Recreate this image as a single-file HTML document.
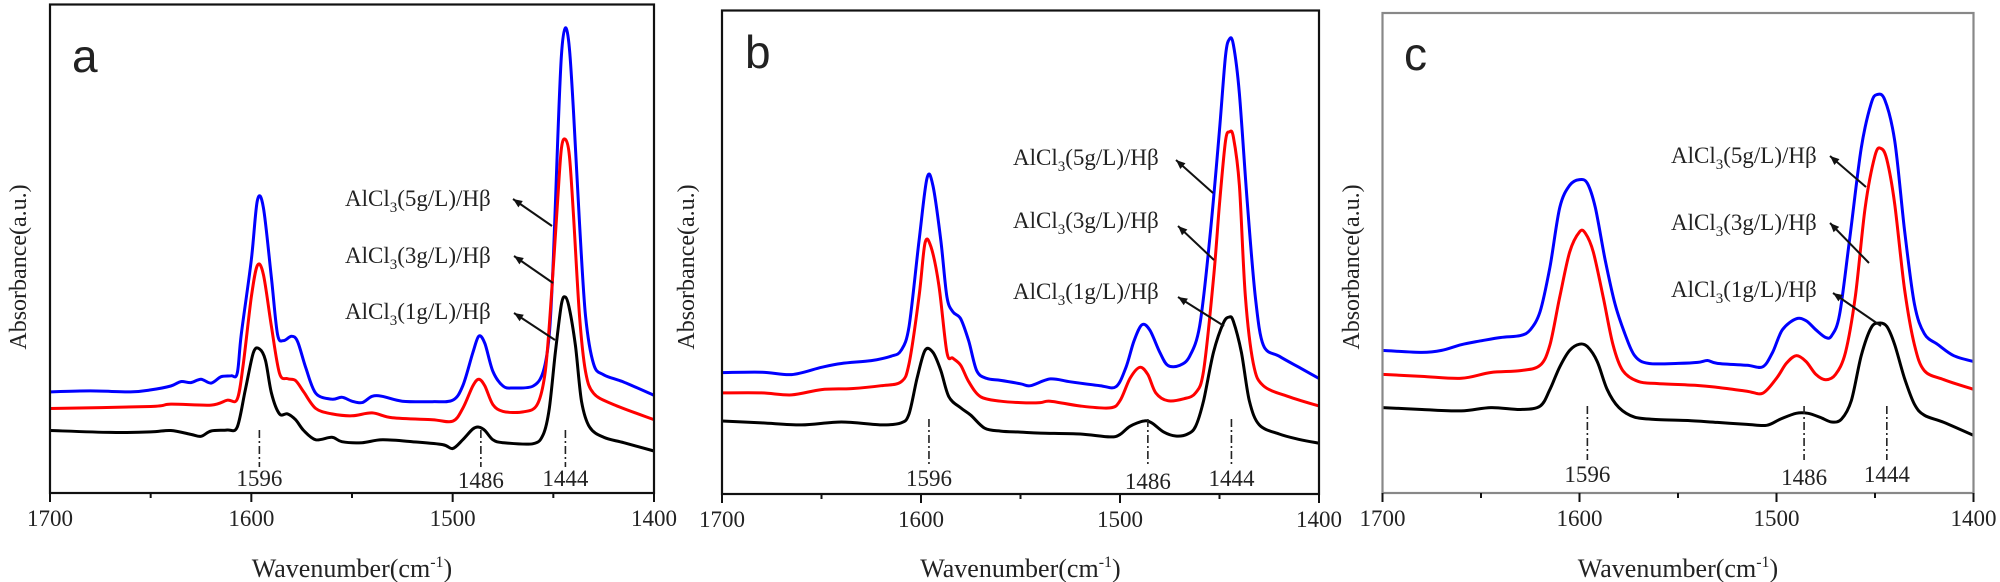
<!DOCTYPE html>
<html><head><meta charset="utf-8"><style>
html,body{margin:0;padding:0;background:#fff;}
svg{display:block;}
text{font-family:"Liberation Serif",serif;fill:#222;}
</style></head><body>
<svg id="fig" width="2000" height="582" viewBox="0 0 2000 582" xmlns="http://www.w3.org/2000/svg"></svg>
<script>
// ---------- data (wavenumber cm-1, absorbance a.u. arbitrary 0..100) ----------
const xTicks = [1700, 1600, 1500, 1400];
const minorTicks = [1650, 1550, 1450];
const peakPositions = [1596, 1486, 1444];
const seriesNames = ["AlCl3(5g/L)/Hβ", "AlCl3(3g/L)/Hβ", "AlCl3(1g/L)/Hβ"];

// Panel a
const aBlueW = [1700,1680,1660,1650,1640,1635,1630,1625,1620,1615,1610,1607,1605,1600,1597,1594,1590,1587,1584,1580,1577,1573,1568,1560,1555,1550,1545,1540,1535,1525,1510,1500,1495,1490,1487,1484,1480,1475,1470,1460,1455,1452,1450,1448,1446,1444,1442,1440,1437,1434,1430,1425,1415,1400];
const aBlueV = [20.7,20.9,20.7,21.1,21.9,22.8,22.6,23.3,22.5,23.8,24.0,24.5,32.5,47.7,59.9,58.4,43.9,32.5,31.2,32.1,31.0,25.7,20.4,19.2,19.6,18.8,18.5,19.8,19.8,18.8,18.7,19.0,21.9,28.7,32.1,30.6,24.9,21.9,21.5,21.9,24.9,32.5,47.7,70.5,89.5,95.2,91.0,78.1,55.3,36.3,26.4,24.2,22.7,20.0];
const aRedW = [1700,1650,1640,1620,1612,1607,1604,1600,1597,1594,1590,1586,1582,1578,1574,1568,1560,1550,1540,1530,1510,1500,1495,1490,1487,1484,1480,1475,1465,1458,1454,1451,1448,1446,1444,1442,1440,1437,1434,1430,1420,1400];
const aRedV = [17.3,17.7,18.2,18.0,19.0,19.2,26.4,40.1,46.6,44.7,34.0,24.5,23.4,23.0,20.7,17.3,16.2,15.8,16.4,15.4,15.0,14.7,17.3,21.9,23.3,21.9,18.1,16.7,16.6,18.1,24.9,40.1,59.1,70.5,72.4,69.0,56.8,36.3,24.9,20.4,18.1,15.0];
const aBlackW = [1700,1670,1650,1640,1630,1625,1620,1612,1607,1603,1599,1596,1593,1590,1586,1582,1578,1574,1568,1560,1555,1545,1535,1520,1505,1500,1495,1490,1487,1484,1480,1475,1460,1455,1452,1449,1446,1444,1442,1439,1436,1432,1425,1415,1400];
const aBlackV = [12.8,12.4,12.5,12.8,12.0,11.6,12.7,12.9,13.5,21.1,28.7,29.5,27.2,20.4,16.2,16.2,15.0,12.8,10.9,11.4,10.5,10.3,10.9,10.5,9.9,9.1,10.9,13.1,13.5,12.8,10.9,10.3,10.1,12.0,17.3,28.7,38.6,40.1,37.7,30.1,18.8,13.5,11.4,10.3,8.6];

// Panel b
const bBlueW = [1700,1680,1665,1650,1640,1625,1615,1610,1606,1601,1597,1594,1590,1587,1584,1580,1576,1572,1567,1560,1550,1545,1535,1525,1510,1502,1497,1493,1489,1485,1480,1476,1470,1465,1460,1455,1450,1447,1445,1443,1440,1436,1432,1428,1420,1410,1400];
const bBlueV = [25.1,25.2,24.7,26.2,27.0,27.6,28.5,29.7,34.7,52.3,65.3,63.8,52.3,40.8,37.7,36.2,31.6,25.5,23.9,23.5,22.8,22.4,23.8,23.2,22.4,22.2,26.2,31.6,35.0,33.9,29.3,26.6,26.6,28.5,34.7,52.3,75.3,90.6,94.1,92.9,82.8,60.0,40.8,30.8,28.5,26.2,23.9];
const bRedW = [1700,1680,1665,1650,1635,1620,1610,1606,1601,1598,1595,1591,1587,1584,1580,1576,1570,1560,1550,1540,1535,1520,1505,1500,1495,1490,1486,1482,1476,1468,1462,1458,1453,1450,1447,1445,1443,1440,1437,1433,1428,1415,1400];
const bRedV = [20.9,20.9,20.5,21.6,21.8,22.4,23.2,27.0,40.8,51.9,51.1,43.1,29.3,28.1,26.6,23.2,20.1,19.2,18.9,18.9,19.2,18.2,17.8,19.3,23.9,26.2,24.7,20.9,19.3,19.7,20.9,25.5,44.6,60.0,73.0,74.9,73.8,63.8,40.8,27.0,22.4,20.1,18.2];
const bBlackW = [1700,1680,1660,1640,1620,1610,1606,1602,1598,1594,1590,1586,1580,1575,1568,1560,1550,1540,1520,1505,1500,1495,1488,1484,1478,1472,1466,1462,1458,1453,1448,1445,1443,1439,1435,1430,1420,1410,1400];
const bBlackV = [15.1,14.7,14.3,14.9,14.3,14.7,16.6,23.9,29.7,29.3,25.5,20.1,17.8,16.3,13.6,13.0,12.8,12.6,12.4,11.8,12.3,14.0,15.1,14.7,12.8,12.0,12.4,14.0,19.3,29.3,35.4,36.6,35.7,29.3,19.3,14.3,12.4,11.3,10.5];

// Panel c
const cBlueW = [1700,1680,1670,1660,1650,1640,1630,1625,1620,1615,1610,1605,1600,1596,1592,1587,1582,1577,1572,1565,1550,1540,1535,1530,1515,1507,1502,1497,1490,1485,1480,1475,1472,1468,1463,1457,1452,1449,1445,1440,1435,1430,1425,1418,1410,1400];
const cBlueV = [29.7,29.3,29.7,30.9,31.7,32.4,32.8,34.0,37.8,47.1,59.5,64.1,65.3,64.5,59.5,48.6,39.4,33.2,28.6,27.0,27.0,27.2,27.6,27.0,26.6,26.3,29.3,34.0,36.3,35.9,34.0,32.4,32.8,37.1,52.5,71.8,81.1,83.0,81.9,73.4,54.8,39.4,33.2,30.9,28.6,27.4];
const cRedW = [1700,1680,1660,1645,1630,1620,1615,1610,1605,1600,1597,1593,1588,1583,1578,1570,1560,1540,1530,1515,1507,1500,1495,1490,1485,1480,1475,1470,1465,1460,1455,1450,1447,1444,1440,1435,1430,1425,1415,1400];
const cRedV = [24.7,24.3,23.9,25.1,25.5,26.6,30.9,40.9,50.2,54.4,54.1,50.2,40.9,30.9,25.5,23.2,22.8,22.4,22.0,21.2,20.8,23.9,27.0,28.6,27.4,24.7,23.6,24.7,29.3,40.9,59.5,70.3,71.8,69.5,60.2,42.5,30.9,25.5,23.6,21.6];
const cBlackW = [1700,1680,1660,1645,1630,1620,1615,1610,1605,1600,1596,1591,1586,1580,1572,1560,1545,1530,1515,1505,1498,1490,1484,1478,1472,1467,1462,1457,1452,1448,1444,1440,1435,1430,1425,1415,1400];
const cBlackV = [17.8,17.4,17.1,17.8,17.4,18.1,21.6,26.3,29.7,31.0,30.5,27.4,21.6,17.8,15.8,15.3,15.1,14.7,14.3,14.1,15.4,16.6,16.6,15.8,14.8,15.4,19.3,28.6,34.4,35.4,34.7,30.9,23.9,18.5,16.2,14.7,12.0];

// ---------- drawing ----------
const NS = "http://www.w3.org/2000/svg";
const svg = document.getElementById("fig");
function mk(tag, attrs, parent) {
  const e = document.createElementNS(NS, tag);
  for (const k in attrs) e.setAttribute(k, attrs[k]);
  (parent || svg).appendChild(e);
  return e;
}
function smoothPath(pts) {
  let d = "M" + pts[0][0].toFixed(1) + "," + pts[0][1].toFixed(1);
  for (let i = 0; i < pts.length - 1; i++) {
    const p0 = pts[Math.max(0, i - 1)], p1 = pts[i], p2 = pts[i + 1], p3 = pts[Math.min(pts.length - 1, i + 2)];
    const t = 0.16;
    const c1 = [p1[0] + (p2[0] - p0[0]) * t, p1[1] + (p2[1] - p0[1]) * t];
    const c2 = [p2[0] - (p3[0] - p1[0]) * t, p2[1] - (p3[1] - p1[1]) * t];
    d += "C" + c1.map(n => n.toFixed(1)).join(",") + " " + c2.map(n => n.toFixed(1)).join(",") + " " + p2[0].toFixed(1) + "," + p2[1].toFixed(1);
  }
  return d;
}

const panels = [
  {id:"a", L:50, R:654, T:4.5, B:493, frame:"#111", letter:"a", letterX:72, letterY:72, yTitleX:18,
   series:[[aBlueW,aBlueV,"#0000ff"],[aRedW,aRedV,"#ff0000"],[aBlackW,aBlackV,"#000"]],
   textX:345, textY:[206,263,319],
   arrows:[[513,199,552,226],[514,256,553,283],[514,313,555,340]],
   peakLine:[430,467], peakLab:[486,488,486]},
  {id:"b", L:722, R:1319, T:10.5, B:494, frame:"#111", letter:"b", letterX:745, letterY:68, yTitleX:686,
   series:[[bBlueW,bBlueV,"#0000ff"],[bRedW,bRedV,"#ff0000"],[bBlackW,bBlackV,"#000"]],
   textX:1013, textY:[165,228,299],
   arrows:[[1176,160,1213,193],[1178,226,1214,260],[1178,297,1224,326]],
   peakLine:[419,467], peakLab:[486,489,486]},
  {id:"c", L:1382.5, R:1973.5, T:13, B:493, frame:"#888", letter:"c", letterX:1404, letterY:70, yTitleX:1351,
   series:[[cBlueW,cBlueV,"#0000ff"],[cRedW,cRedV,"#ff0000"],[cBlackW,cBlackV,"#000"]],
   textX:1671, textY:[163,230,297],
   arrows:[[1830,156,1866,187],[1830,223,1869,263],[1833,293,1881,326]],
   peakLine:[406,460], peakLab:[482,485,482]}
];

panels.forEach(p => {
  const g = mk("g", {});
  
  
  const xs = w => p.L + (1700 - w) / 300 * (p.R - p.L);
  const ys = v => p.B - v / 100 * (p.B - p.T);

  p.series.forEach((s, i) => {
    const [W, V, col] = s;
    const pts = W.map((w, k) => [xs(w), ys(V[k])]);
    const path = mk("path", {d: smoothPath(pts), fill: "none", stroke: col, "stroke-width": 3, "stroke-linejoin": "round"}, g);
    
    
  });

  const fr = mk("rect", {x:p.L, y:p.T, width:p.R-p.L, height:p.B-p.T, fill:"none", stroke:p.frame, "stroke-width":2.2}, g);
  
  

  xTicks.forEach(t => {
    const x = xs(t);
    mk("line", {x1:x, x2:x, y1:p.B, y2:p.B+9, stroke:"#111", "stroke-width":2}, g);
    const tl = mk("text", {x:x, y:p.B+33, "text-anchor":"middle", "font-size":23}, g);
    tl.textContent = t;
    
    
  });
  minorTicks.forEach(t => {
    const x = xs(t);
    mk("line", {x1:x, x2:x, y1:p.B, y2:p.B+5, stroke:"#111", "stroke-width":2}, g);
  });

  const xt = mk("text", {x:(p.L+p.R)/2, y:577, "text-anchor":"middle", "font-size":26}, g);
  xt.innerHTML = 'Wavenumber(cm<tspan dy="-10" font-size="16">-1</tspan><tspan dy="10">)</tspan>';
  
  
  const yt = mk("text", {x:0, y:0, "text-anchor":"middle", "font-size":24, transform:"translate(" + (p.yTitleX+8) + ",267) rotate(-90)"}, g);
  yt.textContent = "Absorbance(a.u.)";
  
  

  const lt = mk("text", {x:p.letterX, y:p.letterY, "font-size":46, style:"font-family:'Liberation Sans',sans-serif"}, g);
  lt.textContent = p.letter;
  
  

  peakPositions.forEach((pk, i) => {
    const x = xs(pk);
    const ln = mk("line", {x1:x, x2:x, y1:p.peakLine[0], y2:p.peakLine[1], stroke:"#222", "stroke-width":1.6, "stroke-dasharray":"8,3,2,3"}, g);
    
    
    const pl = mk("text", {x:x, y:p.peakLab[i], "text-anchor":"middle", "font-size":23}, g);
    pl.textContent = pk;
    
    
  });

  seriesNames.forEach((nm, i) => {
    const t = mk("text", {x:p.textX, y:p.textY[i], "font-size":23}, g);
    t.innerHTML = 'AlCl<tspan dy="6" font-size="15">3</tspan><tspan dy="-6">' + nm.slice(5) + '</tspan>';
    
    
    const [x1,y1,x2,y2] = p.arrows[i];
    const ang = Math.atan2(y1-y2, x1-x2);
    const ah = 10;
    const ar = mk("g", {}, g);
    
    
    mk("line", {x1:x2, y1:y2, x2:x1, y2:y1, stroke:"#111", "stroke-width":2}, ar);
    const pts = [[x1,y1],[x1-ah*Math.cos(ang-0.4), y1-ah*Math.sin(ang-0.4)],[x1-ah*Math.cos(ang+0.4), y1-ah*Math.sin(ang+0.4)]];
    mk("polygon", {points: pts.map(q=>q.map(n=>n.toFixed(1)).join(",")).join(" "), fill:"#111"}, ar);
  });
});
</script>
</body></html>
